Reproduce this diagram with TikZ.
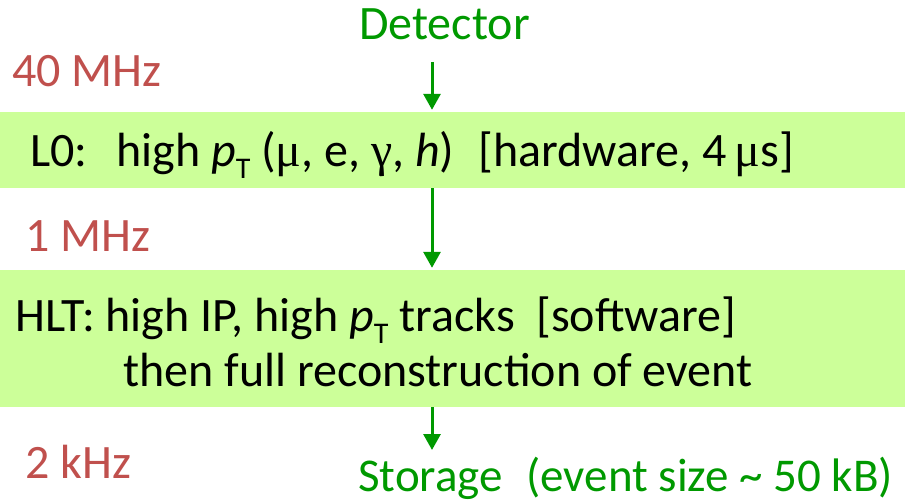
\documentclass[tikz,border=0pt]{standalone}
\usepackage{fontspec}
\setmainfont{Carlito}
\newfontfamily\symf{Liberation Serif}
\usetikzlibrary{arrows.meta}
\definecolor{band}{RGB}{204,255,153}
\definecolor{grn}{RGB}{0,153,0}
\definecolor{rate}{RGB}{192,80,77}
\newcommand{\pT}{\textit{p}\raisebox{-0.25em}{\fontsize{30}{30}\selectfont T}}
\begin{document}
\begin{tikzpicture}[x=1pt,y=-1pt,
 lbl/.style={inner sep=0pt, anchor=base west, font=\fontsize{48}{56}\selectfont},
 ratelbl/.style={lbl, text=rate},
 greenlbl/.style={lbl, text=grn},
 flow/.style={draw=grn, line width=3pt, -{Triangle[length=16pt,width=17pt]}},
 bandbox/.style={fill=band, draw=none, inner sep=0pt, minimum width=905pt}]
\useasboundingbox (0,0) rectangle (905,502);
\node[bandbox, minimum height=76pt] (l0band) at (452.5,150) {};
\node[bandbox, minimum height=137pt] (hltband) at (452.5,338.5) {};
\node[greenlbl] (det) at (359,40) {Detector};
\node[ratelbl] (r40) at (12,87) {40 MHz};
\node[ratelbl] (r1) at (25,252) {1 MHz};
\node[ratelbl] (r2) at (25,478) {2 kHz};
\node[lbl] (l0) at (30,167) {L0:\hspace{0.6em}high \pT\ ({\symf μ}, e, {\symf γ}, \textit{h})\hspace{0.5em}[hardware, 4\,{\symf μ}s]};
\node[lbl] (hlt1) at (15,332) {HLT: high IP, high \pT\ tracks\hspace{0.45em}[software]};
\node[lbl] (hlt2) at (123,387) {then full reconstruction of event};
\node[greenlbl, font=\fontsize{47}{55}\selectfont] (stor) at (358,491) {Storage\hspace{0.5em}(event size \char`~\ 50 kB)};
\coordinate (a1) at (432,62);
\coordinate (a3) at (432,450);
\draw[flow, shorten >=2pt] (a1) -- (a1 |- l0band.north);
\draw[flow, shorten >=2pt] (a1 |- l0band.south) -- (a1 |- hltband.north);
\draw[flow] (a1 |- hltband.south) -- (a3);
\end{tikzpicture}
\end{document}
